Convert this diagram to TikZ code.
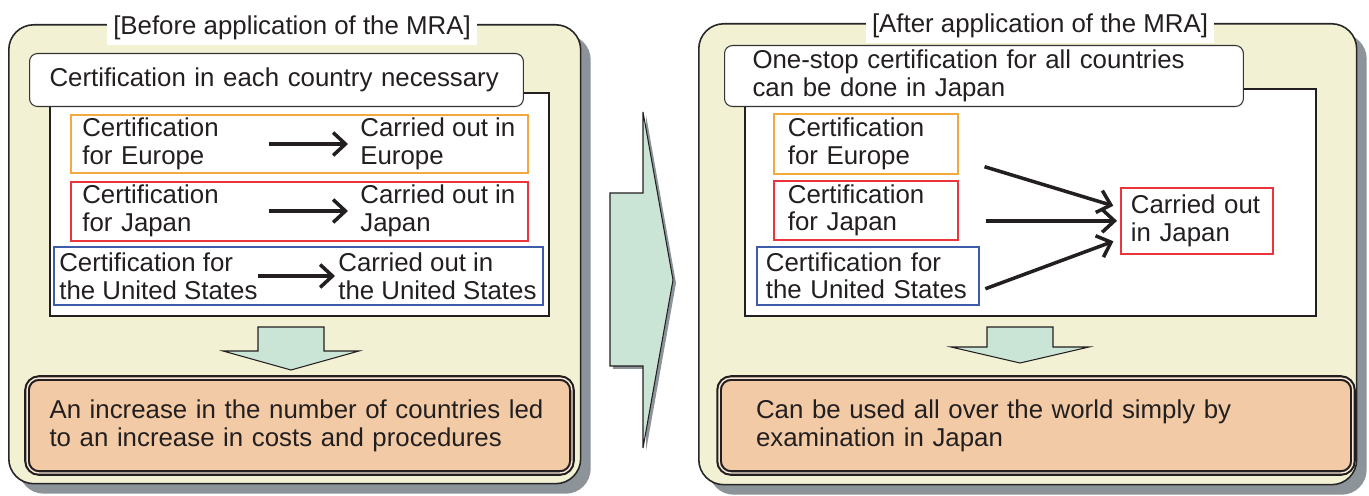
\documentclass[tikz,border=0pt]{standalone}
\usepackage{fontspec}
\setmainfont{Liberation Sans}
\usetikzlibrary{arrows.meta,positioning,shadows}

\definecolor{panelyellow}{HTML}{F3F1D4}
\definecolor{shadowgray}{HTML}{8C9399}
\definecolor{flowgreen}{HTML}{CAE5D5}
\definecolor{resultpeach}{HTML}{F2CBA6}
\definecolor{certorange}{HTML}{F3A93C}
\definecolor{certred}{HTML}{E9353B}
\definecolor{certblue}{HTML}{3F5CAA}
\definecolor{inkgray}{HTML}{231F20}

\tikzset{
	mrapicture/.style = {
		x = 0.02cm,
		y = -0.02cm,
		font = \fontsize{14.7}{15.8}\selectfont,
		text = inkgray,
		arrow/.style = {
			draw = inkgray,
			line width = 2pt,
			-{Straight Barb[length=7pt, width=13pt]},
		}
	},
	panel/.style = {
		draw = black!85,
		line width = 0.9pt,
		fill = panelyellow,
		rounded corners = 0.5cm,
		inner sep = 0pt,
		anchor = north west,
		drop shadow = {shadow xshift = 0.2cm, shadow yshift = -0.2cm, fill = shadowgray, opacity = 1}
	},
	titlebox/.style = {
		fill = white,
		inner xsep = 0.12cm,
		inner ysep = 3pt
	},
	headbox/.style = {
		draw = black!80,
		line width = 0.6pt,
		fill = white,
		rounded corners = 0.16cm,
		anchor = north west,
		align = left,
		inner ysep = 0pt
	},
	frame/.style = {
		draw = inkgray,
		line width = 1.2pt,
		fill = white,
		anchor = north west,
		inner sep = 0pt
	},
	certbox/.style = {
		draw = #1,
		line width = 1pt,
		fill = white,
		anchor = north west,
		align = left,
		inner ysep = 0pt
	},
	srctext/.style = {
		anchor = west,
		inner sep = 0pt,
		align = left
	},
	dsttext/.style = {
		anchor = west,
		inner ysep = 0pt,
		align = left
	},
	flow/.style = {
		draw = inkgray,
		line width = 0.6pt,
		fill = flowgreen,
		line join = miter
	},
	resultbox/.style = {
		draw = inkgray,
		line width = 1.2pt,
		double = resultpeach!45!white,
		double distance = 0.8pt,
		fill = resultpeach,
		rounded corners = 0.24cm,
		anchor = north west,
		align = left,
		inner ysep = 0pt
	}
}

\begin{document}
\begin{tikzpicture}[mrapicture]
	\useasboundingbox (0,0) rectangle (1369,496);

	\node[panel, minimum width=11.44cm, minimum height=9.18cm] (before) at (8,24) {};
	\node[panel, minimum width=13.16cm, minimum height=9.22cm] (after) at (698,23) {};

	\node[titlebox] (before title) at (292,28) {[Before application of the MRA]};
	\node[titlebox] (after title) at (1040,26) {[After application of the MRA]};

	\node[frame, minimum width=9.98cm, minimum height=4.46cm] (before frame) at (49,92) {};
	\node[frame, minimum width=11.42cm, minimum height=4.54cm] (after frame) at (744,88) {};

	\node[headbox, minimum width=9.88cm, minimum height=1.06cm, inner xsep=0.4cm, text width=9.08cm] (each) at (29,53) {Certification in each country necessary};
	\node[headbox, minimum width=10.38cm, minimum height=1.22cm, inner xsep=0.56cm, text width=9.26cm] (onestop) at (724,45) {One-stop certification for all countries\\can be done in Japan};

	\node[certbox=certorange, minimum width=9.14cm, minimum height=1.16cm] (eu row) at (70,114) {};
	\node[certbox=certred, minimum width=9.14cm, minimum height=1.18cm] (ja row) at (70,181) {};
	\node[certbox=certblue, minimum width=9.78cm, minimum height=1.16cm] (us row) at (53,246) {};

	\node[srctext, text width=3.72cm] (eu from) at (82,144) {Certification\\for Europe};
	\node[dsttext, inner xsep=0.24cm] (eu to) at (348,144) {Carried out in\\Europe};
	\node[srctext, text width=3.72cm] (ja from) at (82,211) {Certification\\for Japan};
	\node[dsttext, inner xsep=0.24cm] (ja to) at (348,211) {Carried out in\\Japan};
	\node[srctext] (us from) at (59,276) {Certification for\\the United States};
	\node[dsttext, inner xsep=0.06cm] (us to) at (335,276) {Carried out in\\the United States};

	\node[certbox=certorange, minimum width=3.68cm, minimum height=1.2cm, inner xsep=0.28cm, text width=3.12cm] (eu cert) at (773,113) {Certification\\for Europe};
	\node[certbox=certred, minimum width=3.68cm, minimum height=1.18cm, inner xsep=0.28cm, text width=3.12cm] (ja cert) at (773,180) {Certification\\for Japan};
	\node[certbox=certblue, minimum width=4.44cm, minimum height=1.16cm, inner xsep=0.18cm, text width=4.08cm] (us cert) at (756,246) {Certification for\\the United States};
	\node[certbox=certred, minimum width=3.04cm, minimum height=1.32cm, inner xsep=0.2cm, text width=2.64cm] (japan) at (1120,187) {Carried out\\in Japan};

	\begin{scope}[every path/.style = arrow]
		\path (eu from.east) to (eu to.west);
		\path (ja from.east) to (ja to.west);
		\path (us from.east) to (us to.west);

		\path[shorten <=0.54cm, shorten >=0.14cm] ([yshift=-0.3cm]eu cert.east) to ([yshift=0.26cm]japan.west);
		\path[shorten <=0.54cm, shorten >=0.06cm] (ja cert.east |- japan.west) to (japan.west);
		\path[shorten <=0.12cm, shorten >=0.14cm] ([yshift=-0.3cm]us cert.east) to ([yshift=-0.36cm]japan.west);
	\end{scope}

	\draw[flow] (258,327) -- (324,327) -- (324,351) -- (359,351) -- (291,370) -- (223,351) -- (258,351) -- cycle;
	\draw[flow] (987,327) -- (1053,327) -- (1053,347) -- (1089,347) -- (1020,363) -- (951,347) -- (987,347) -- cycle;
	\draw[flow, drop shadow = {shadow xshift = 0.06cm, shadow yshift = -0.06cm, fill = shadowgray, opacity = 1}] (610,193) -- (643,193) -- (643,112) -- (673,280) -- (643,448) -- (643,366) -- (610,366) -- cycle;

	\node[resultbox, minimum width=10.9cm, minimum height=1.9cm, inner xsep=0.45cm, text width=10cm] (cost) at (26,377) {An increase in the number of countries led\\to an increase in costs and procedures};
	\node[resultbox, minimum width=12.68cm, minimum height=1.9cm, inner xsep=0.74cm, text width=11.2cm] (world) at (718,377) {Can be used all over the world simply by\\examination in Japan};
\end{tikzpicture}
\end{document}
